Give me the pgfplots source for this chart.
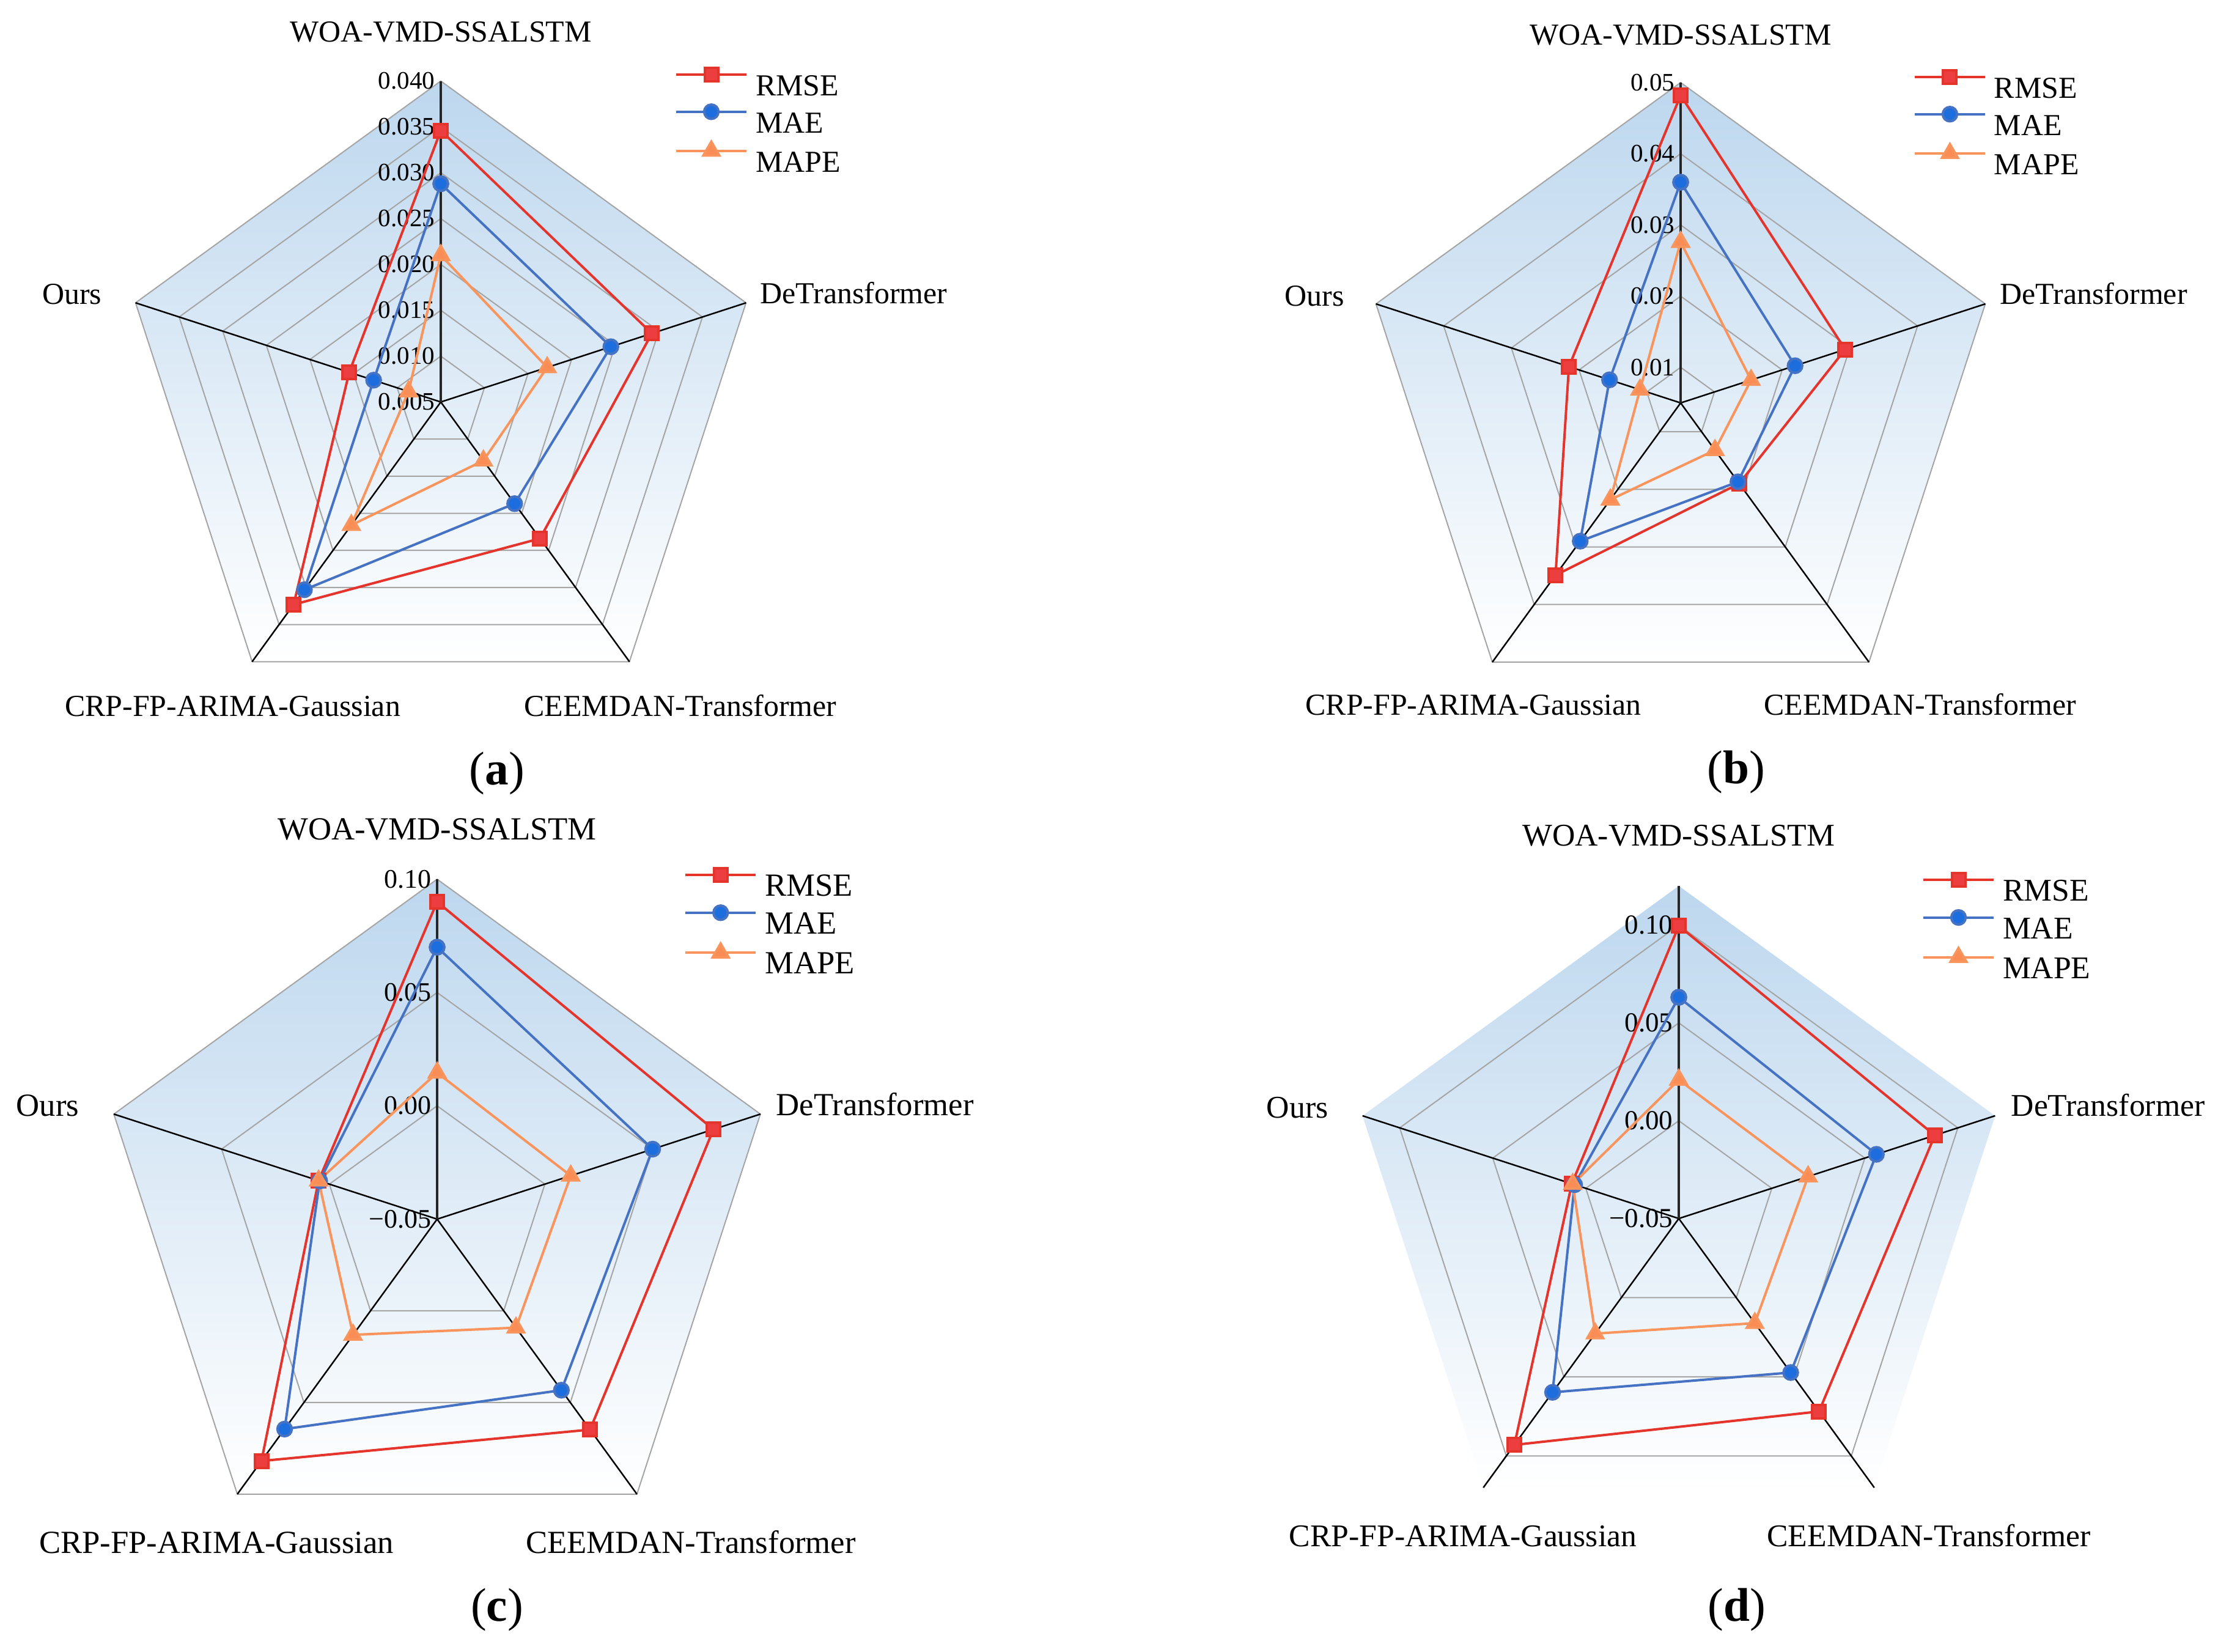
\documentclass[border=0pt]{standalone}
\usepackage{pgfplots}
\pgfplotsset{compat=1.18}
\usepackage{pgfplotstable}
\usepackage{fontspec}
\setmainfont{Liberation Serif}
\definecolor{rmsered}{RGB}{236,62,62}
\definecolor{rmseline}{RGB}{228,52,44}
\definecolor{maeblue}{RGB}{28,110,222}
\definecolor{maeline}{RGB}{70,114,196}
\definecolor{mapeor}{RGB}{250,140,85}
\definecolor{mapeline}{RGB}{248,148,92}
\definecolor{bgblue}{RGB}{189,215,238}
\definecolor{gridgray}{RGB}{165,165,165}

\pgfplotstableread{
ang RMSE MAE MAPE
90 0.0346 0.0288 0.0210
18 0.0292 0.0245 0.0172
-54 0.0234 0.0187 0.0129
-126 0.0323 0.0303 0.0216
-198 0.0155 0.0127 0.0087
-270 0.0346 0.0288 0.0210
}\tabA
\pgfplotstableread{
ang RMSE MAE MAPE
90 0.0482 0.0360 0.0276
18 0.0293 0.0219 0.0154
-54 0.0190 0.0187 0.0132
-126 0.0349 0.0290 0.0218
-198 0.0215 0.0155 0.0110
-270 0.0482 0.0360 0.0276
}\tabB
\pgfplotstableread{
ang RMSE MAE MAPE
90 0.0900 0.0700 0.0146
18 0.0782 0.0500 0.0120
-54 0.0648 0.0433 0.0092
-126 0.0819 0.0645 0.0131
-198 0.0050 0.0045 0.0050
-270 0.0900 0.0700 0.0146
}\tabC
\pgfplotstableread{
ang RMSE MAE MAPE
90 0.0996 0.0631 0.0209
18 0.0876 0.0562 0.0195
-54 0.0719 0.0473 0.0161
-126 0.0930 0.0598 0.0227
-198 0.0075 0.0060 0.0070
-270 0.0996 0.0631 0.0209
}\tabD

\newcommand\pent[1]{(axis cs:0,{#1}) -- (axis cs:{0.951057*(#1)},{0.309017*(#1)}) -- (axis cs:{0.587785*(#1)},{-0.809017*(#1)}) -- (axis cs:{-0.587785*(#1)},{-0.809017*(#1)}) -- (axis cs:{-0.951057*(#1)},{0.309017*(#1)}) -- cycle}
\newcommand\spokes{%
\draw[black,line width=0.25mm] (axis cs:0,0) -- (axis cs:0.951057,0.309017) (axis cs:0,0) -- (axis cs:0.587785,-0.809017) (axis cs:0,0) -- (axis cs:-0.587785,-0.809017) (axis cs:0,0) -- (axis cs:-0.951057,0.309017);
\draw[black!85,line width=0.35mm] (axis cs:0,0) -- (axis cs:0,1);}

\pgfplotsset{
 radar/.style n args={3}{anchor=center, at={#1}, scale only axis, x=#2, y=#2,
   xmin=-1.3,xmax=1.3,ymin=-1.3,ymax=1.3, hide axis, clip=false,
   legend image code/.code={\draw[mark repeat=2,mark phase=2] plot coordinates {(0mm,1.7mm)(5.75mm,1.7mm)(11.5mm,1.7mm)};},
   legend cell align=left,
   legend style={draw=none, fill=none, inner sep=0pt, outer sep=0pt, anchor=west,
     column sep=0.7mm, font=\fontsize{#3}{#3}\selectfont,
     nodes={inner sep=0.6mm, text height=3.5mm, text depth=0pt}}},
 rmse/.style={draw=rmseline, line width=0.4mm, mark=square*, mark size=1.1mm, mark options={draw=none, fill=rmsered}},
 mae/.style={draw=maeline, line width=0.4mm, mark=*, mark size=1.17mm, mark options={draw=none, fill=maeblue}},
 mape/.style={draw=mapeline, line width=0.4mm, mark=triangle*, mark size=1.5mm, mark options={draw=none, fill=mapeor}},
}
\tikzset{
 laba/.style={inner sep=0pt, font=\fontsize{14.2pt}{16pt}\selectfont},
 labc/.style={inner sep=0pt, font=\fontsize{15.0pt}{17pt}\selectfont},
 labd/.style={inner sep=0pt, font=\fontsize{14.7pt}{17pt}\selectfont},
 tka/.style={inner sep=0pt, anchor=east, xshift=-0.9mm, font=\fontsize{11.7pt}{13pt}\selectfont},
 tkc/.style={inner sep=0pt, anchor=east, xshift=-0.9mm, font=\fontsize{12.5pt}{14pt}\selectfont},
 tkd/.style={inner sep=0pt, anchor=east, xshift=-0.9mm, font=\fontsize{12.8pt}{14pt}\selectfont},
 sub/.style={inner sep=0pt, font=\fontsize{22pt}{26pt}\selectfont},
}

\begin{document}
\begin{tikzpicture}
\useasboundingbox (0,0) rectangle (362.8mm,-270.1mm);

% ---------------- (a) ----------------
\begin{axis}[radar={(72.1mm,-65.75mm)}{52.5mm}{14.2pt},
  legend style={at={(axis cs:0.7295,0.873)}, row sep=0.85mm}]
\shade[top color=bgblue, bottom color=white, draw=none] \pent{1};
\draw[gridgray,line width=0.2mm] \pent{1/7};
\draw[gridgray,line width=0.2mm] \pent{2/7};
\draw[gridgray,line width=0.2mm] \pent{3/7};
\draw[gridgray,line width=0.2mm] \pent{4/7};
\draw[gridgray,line width=0.2mm] \pent{5/7};
\draw[gridgray,line width=0.2mm] \pent{6/7};
\draw[gridgray,line width=0.2mm] \pent{1};
\spokes
\node[tka] at (axis cs:0,0) {0.005};
\node[tka] at (axis cs:0,{1/7}) {0.010};
\node[tka] at (axis cs:0,{2/7}) {0.015};
\node[tka] at (axis cs:0,{3/7}) {0.020};
\node[tka] at (axis cs:0,{4/7}) {0.025};
\node[tka] at (axis cs:0,{5/7}) {0.030};
\node[tka] at (axis cs:0,{6/7}) {0.035};
\node[tka] at (axis cs:0,1) {0.040};
\addplot[rmse] table[x expr={(\thisrow{RMSE}-0.005)/0.035*cos(\thisrow{ang})}, y expr={(\thisrow{RMSE}-0.005)/0.035*sin(\thisrow{ang})}] {\tabA};
\addlegendentry{RMSE}
\addplot[mae] table[x expr={(\thisrow{MAE}-0.005)/0.035*cos(\thisrow{ang})}, y expr={(\thisrow{MAE}-0.005)/0.035*sin(\thisrow{ang})}] {\tabA};
\addlegendentry{MAE}
\addplot[mape] table[x expr={(\thisrow{MAPE}-0.005)/0.035*cos(\thisrow{ang})}, y expr={(\thisrow{MAPE}-0.005)/0.035*sin(\thisrow{ang})}] {\tabA};
\addlegendentry{MAPE}
\end{axis}

% ---------------- (b) ----------------
\begin{axis}[radar={(274.9mm,-65.9mm)}{52.4mm}{14.2pt},
  legend style={at={(axis cs:0.727,0.870)}, row sep=0.85mm}]
\shade[top color=bgblue, bottom color=white, draw=none] \pent{1};
\draw[gridgray,line width=0.2mm] \pent{1/9};
\draw[gridgray,line width=0.2mm] \pent{3/9};
\draw[gridgray,line width=0.2mm] \pent{5/9};
\draw[gridgray,line width=0.2mm] \pent{7/9};
\draw[gridgray,line width=0.2mm] \pent{1};
\spokes
\node[tka] at (axis cs:0,{1/9}) {0.01};
\node[tka] at (axis cs:0,{3/9}) {0.02};
\node[tka] at (axis cs:0,{5/9}) {0.03};
\node[tka] at (axis cs:0,{7/9}) {0.04};
\node[tka] at (axis cs:0,1) {0.05};
\addplot[rmse] table[x expr={(\thisrow{RMSE}-0.005)/0.045*cos(\thisrow{ang})}, y expr={(\thisrow{RMSE}-0.005)/0.045*sin(\thisrow{ang})}] {\tabB};
\addlegendentry{RMSE}
\addplot[mae] table[x expr={(\thisrow{MAE}-0.005)/0.045*cos(\thisrow{ang})}, y expr={(\thisrow{MAE}-0.005)/0.045*sin(\thisrow{ang})}] {\tabB};
\addlegendentry{MAE}
\addplot[mape] table[x expr={(\thisrow{MAPE}-0.005)/0.045*cos(\thisrow{ang})}, y expr={(\thisrow{MAPE}-0.005)/0.045*sin(\thisrow{ang})}] {\tabB};
\addlegendentry{MAPE}
\end{axis}

% ---------------- (c) ----------------
\begin{axis}[radar={(71.5mm,-199.4mm)}{55.6mm}{15.0pt},
  legend style={at={(axis cs:0.727,0.872)}, row sep=1.0mm}]
\shade[top color=bgblue, bottom color=white, draw=none] \pent{1};
\draw[gridgray,line width=0.2mm] \pent{1/3};
\draw[gridgray,line width=0.2mm] \pent{2/3};
\draw[gridgray,line width=0.2mm] \pent{1};
\spokes
\node[tkc] at (axis cs:0,0) {−0.05};
\node[tkc] at (axis cs:0,{1/3}) {0.00};
\node[tkc] at (axis cs:0,{2/3}) {0.05};
\node[tkc] at (axis cs:0,1) {0.10};
\addplot[rmse] table[x expr={(\thisrow{RMSE}+0.05)/0.15*cos(\thisrow{ang})}, y expr={(\thisrow{RMSE}+0.05)/0.15*sin(\thisrow{ang})}] {\tabC};
\addlegendentry{RMSE}
\addplot[mae] table[x expr={(\thisrow{MAE}+0.05)/0.15*cos(\thisrow{ang})}, y expr={(\thisrow{MAE}+0.05)/0.15*sin(\thisrow{ang})}] {\tabC};
\addlegendentry{MAE}
\addplot[mape] table[x expr={(\thisrow{MAPE}+0.05)/0.15*cos(\thisrow{ang})}, y expr={(\thisrow{MAPE}+0.05)/0.15*sin(\thisrow{ang})}] {\tabC};
\addlegendentry{MAPE}
\end{axis}

% ---------------- (d) ----------------
\begin{axis}[radar={(274.6mm,-199.3mm)}{54.4mm}{14.7pt},
  legend style={at={(axis cs:0.7316,0.875)}, row sep=0.95mm}]
\shade[top color=bgblue, bottom color=white, draw=none] \pent{1};
\draw[gridgray,line width=0.2mm] \pent{5/17};
\draw[gridgray,line width=0.2mm] \pent{10/17};
\draw[gridgray,line width=0.2mm] \pent{15/17};
\spokes
\node[tkd] at (axis cs:0,0) {−0.05};
\node[tkd] at (axis cs:0,{5/17}) {0.00};
\node[tkd] at (axis cs:0,{10/17}) {0.05};
\node[tkd] at (axis cs:0,{15/17}) {0.10};
\addplot[rmse] table[x expr={(\thisrow{RMSE}+0.05)/0.17*cos(\thisrow{ang})}, y expr={(\thisrow{RMSE}+0.05)/0.17*sin(\thisrow{ang})}] {\tabD};
\addlegendentry{RMSE}
\addplot[mae] table[x expr={(\thisrow{MAE}+0.05)/0.17*cos(\thisrow{ang})}, y expr={(\thisrow{MAE}+0.05)/0.17*sin(\thisrow{ang})}] {\tabD};
\addlegendentry{MAE}
\addplot[mape] table[x expr={(\thisrow{MAPE}+0.05)/0.17*cos(\thisrow{ang})}, y expr={(\thisrow{MAPE}+0.05)/0.17*sin(\thisrow{ang})}] {\tabD};
\addlegendentry{MAPE}
\end{axis}

% ---------------- category labels ----------------
\node[laba, anchor=base] at (72.1mm,-6.8mm) {WOA-VMD-SSALSTM};
\node[laba, anchor=base west] at (124.3mm,-49.6mm) {DeTransformer};
\node[laba, anchor=base east] at (16.7mm,-49.75mm) {Ours};
\node[laba, anchor=base] at (38.06mm,-117.16mm) {CRP-FP-ARIMA-Gaussian};
\node[laba, anchor=base] at (111.3mm,-117.16mm) {CEEMDAN-Transformer};
\node[sub, anchor=base] at (81.3mm,-128.36mm) {(\textbf{a})};

\node[laba, anchor=base] at (274.9mm,-7.3mm) {WOA-VMD-SSALSTM};
\node[laba, anchor=base west] at (327.1mm,-49.75mm) {DeTransformer};
\node[laba, anchor=base east] at (219.95mm,-50.0mm) {Ours};
\node[laba, anchor=base] at (241.0mm,-116.9mm) {CRP-FP-ARIMA-Gaussian};
\node[laba, anchor=base] at (314.1mm,-116.9mm) {CEEMDAN-Transformer};
\node[sub, anchor=base] at (284.0mm,-128.1mm) {(\textbf{b})};

\node[labc, anchor=base] at (71.5mm,-137.3mm) {WOA-VMD-SSALSTM};
\node[labc, anchor=base west] at (126.9mm,-182.4mm) {DeTransformer};
\node[labc, anchor=base east] at (13.0mm,-182.55mm) {Ours};
\node[labc, anchor=base] at (35.4mm,-254.0mm) {CRP-FP-ARIMA-Gaussian};
\node[labc, anchor=base] at (113.0mm,-254.0mm) {CEEMDAN-Transformer};
\node[sub, anchor=base] at (81.3mm,-265.1mm) {(\textbf{c})};

\node[labd, anchor=base] at (274.6mm,-138.3mm) {WOA-VMD-SSALSTM};
\node[labd, anchor=base west] at (328.9mm,-182.55mm) {DeTransformer};
\node[labd, anchor=base east] at (217.3mm,-182.8mm) {Ours};
\node[labd, anchor=base] at (239.3mm,-252.9mm) {CRP-FP-ARIMA-Gaussian};
\node[labd, anchor=base] at (315.5mm,-252.9mm) {CEEMDAN-Transformer};
\node[sub, anchor=base] at (284.1mm,-265.1mm) {(\textbf{d})};
\end{tikzpicture}
\end{document}
